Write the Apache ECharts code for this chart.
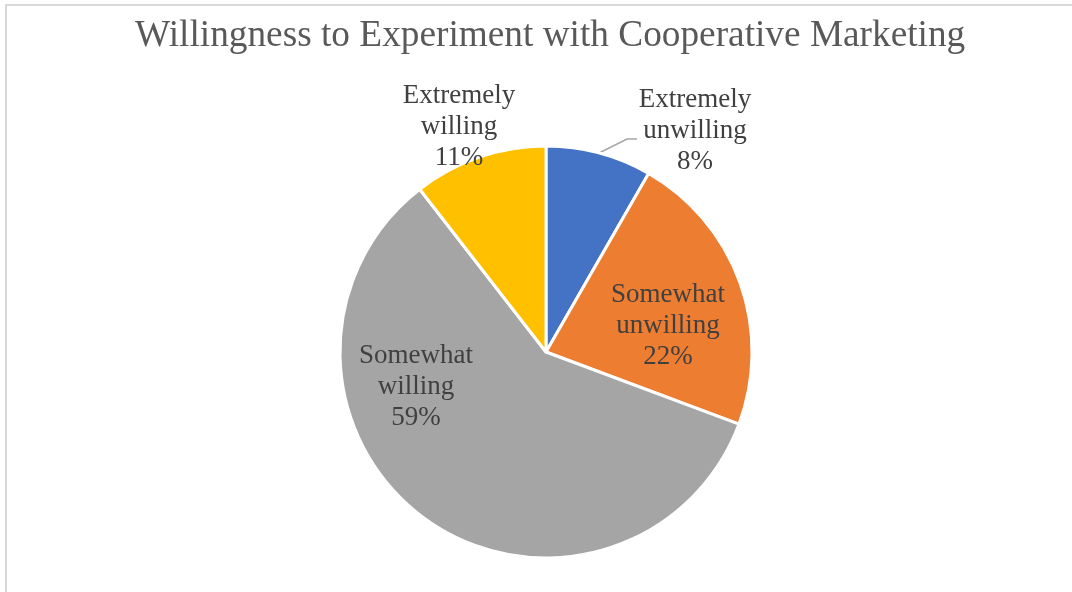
<!DOCTYPE html>
<html>
<head>
<meta charset="utf-8">
<script src="https://cdn.jsdelivr.net/npm/echarts@6/dist/echarts.min.js"></script>
<style>
  html, body { margin: 0; padding: 0; background: #fff; }
  #chart { width: 1072px; height: 592px; }
</style>
</head>
<body>
<div id="chart"></div>
<script>
// slices, clockwise from 12 o'clock
var categories = ['Extremely unwilling', 'Somewhat unwilling', 'Somewhat willing', 'Extremely willing'];
var shares = [8.3, 22.4, 58.8, 10.5];
var colors = ['#4472C4', '#ED7D31', '#A5A5A5', '#FFC000'];

var chart = echarts.init(document.getElementById('chart'));

// where each label sits (label centre), Excel-style manual placement
var labelSpots = [
  { x: 695, y: 131 },
  { x: 668, y: 326 },
  { x: 416, y: 387 },
  { x: 459, y: 127 }
];

chart.setOption({
  animation: false,
  graphic: [{
    type: 'rect',
    shape: { x: 6, y: 5, width: 1100, height: 640 },
    style: { fill: 'none', stroke: '#d9d9d9', lineWidth: 2 }
  }],
  title: {
    text: 'Willingness to Experiment with Cooperative Marketing',
    left: 130,
    top: 13,
    textStyle: {
      fontFamily: 'Liberation Serif',
      fontSize: 37.3,
      fontWeight: 'normal',
      color: '#595959'
    }
  },
  series: [{
    type: 'pie',
    center: [546, 352],
    radius: 206,
    startAngle: 90,
    clockwise: true,
    itemStyle: { borderColor: '#fff', borderWidth: 3 },
    label: {
      show: true,
      position: 'inside',
      fontFamily: 'Liberation Serif',
      fontSize: 27,
      lineHeight: 31,
      color: '#404040',
      align: 'center',
      formatter: function (p) {
        return p.name.replace(' ', '\n') + '\n' + Math.round(p.percent) + '%';
      }
    },
    labelLine: { show: false },
    labelLayout: function (p) {
      var s = labelSpots[p.dataIndex];
      var out = { x: s.x, y: s.y, align: 'center', verticalAlign: 'middle' };
      if (p.dataIndex === 0) {
        out.labelLinePoints = [[599, 153], [627, 139], [637, 139]];
      }
      return out;
    },
    data: categories.map(function (c, i) {
      var d = { name: c, value: shares[i], itemStyle: { color: colors[i] } };
      if (i === 0) {
        d.label = { position: 'outside' };
        d.labelLine = { show: true, lineStyle: { color: '#a6a6a6', width: 1.5 } };
      }
      return d;
    })
  }]
});
</script>
</body>
</html>
